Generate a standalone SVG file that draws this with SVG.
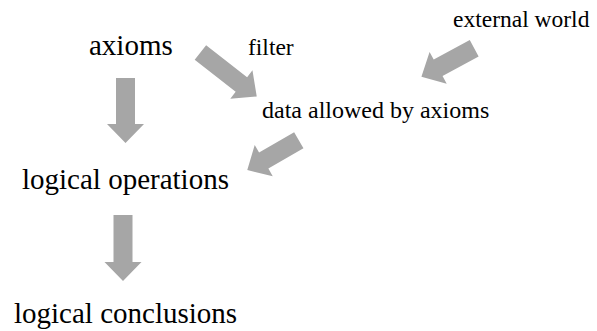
<svg xmlns="http://www.w3.org/2000/svg" width="597" height="331" viewBox="0 0 597 331">
<defs>
<style>
.big{font-size:29px}
.small{font-size:23.5px}
.arrow{fill:#a6a6a6}
</style>
</defs>
<rect width="597" height="331" fill="#fff"/>
<g id="connectors">
<path class="arrow" d="M0,-9.5 H46 V-18.5 L65,0 L46,18.5 V9.5 H0 Z" transform="translate(125.5,78) rotate(90)"/>
<path class="arrow" d="M0,-9.5 H47 V-18.5 L66,0 L47,18.5 V9.5 H0 Z" transform="translate(123,215) rotate(90)"/>
<path class="arrow" d="M0,-9.3 H52 V-18 L71.5,0 L52,18 V9.3 H0 Z" transform="translate(200.4,52.5) rotate(38)"/>
<path class="arrow" d="M0,-9.3 H41 V-18 L60,0 L41,18 V9.3 H0 Z" transform="translate(474.2,48.3) rotate(151.6)"/>
<path class="arrow" d="M0,-9.3 H40.5 V-18 L59.5,0 L40.5,18 V9.3 H0 Z" transform="translate(298.8,140.3) rotate(150)"/>
</g>
<g font-family="Liberation Serif, DejaVu Serif, serif" fill="#000">
<g id="axioms"><text class="big" x="89" y="55">axioms</text></g>
<g id="filter"><text class="small" x="248" y="55">filter</text></g>
<g id="external-world"><text class="small" x="453" y="27">external world</text></g>
<g id="data"><text class="small" x="262" y="118" style="font-size:24px">data allowed by axioms</text></g>
<g id="logical-operations"><text class="big" x="22" y="189">logical operations</text></g>
<g id="logical-conclusions"><text class="big" x="14" y="323">logical conclusions</text></g>
</g>
</svg>
